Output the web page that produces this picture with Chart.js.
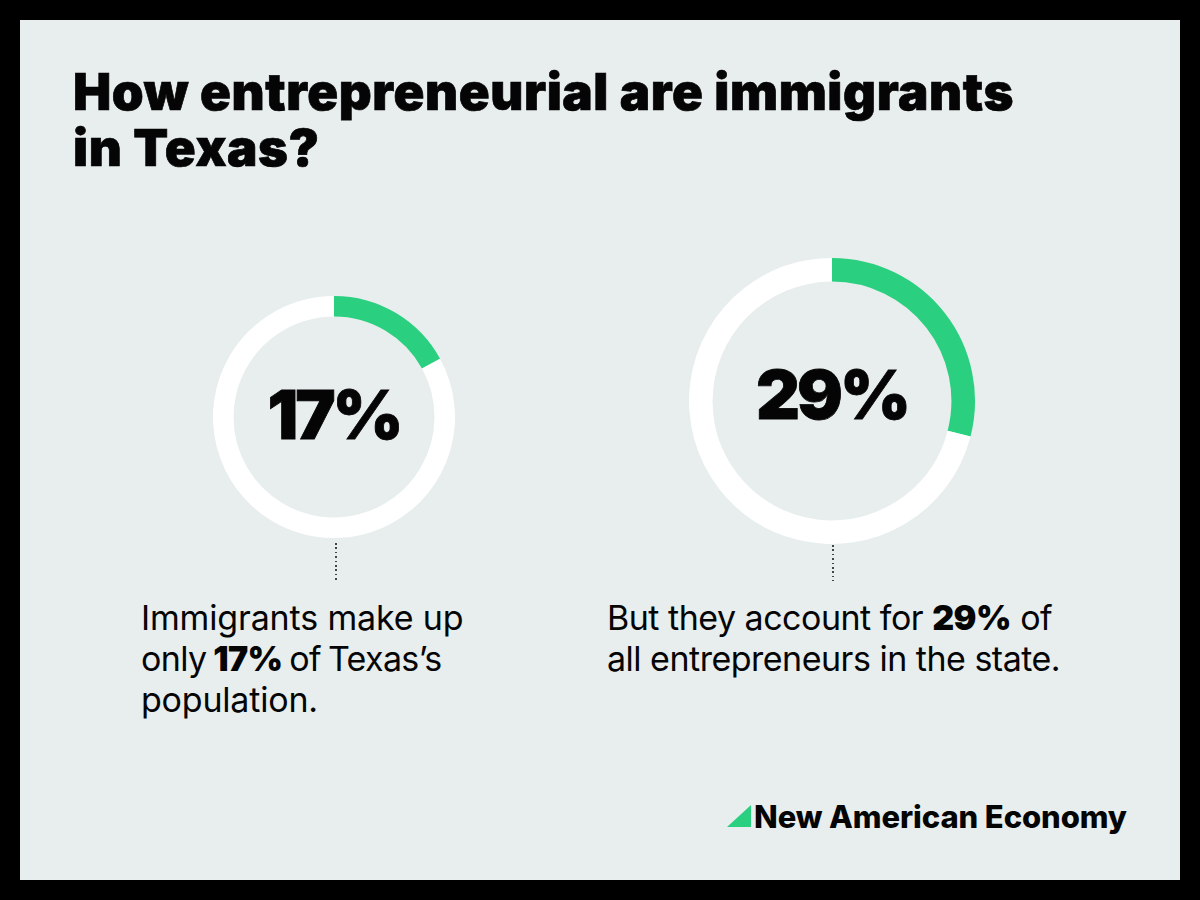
<!DOCTYPE html>
<html>
<head>
<meta charset="utf-8">
<title>How entrepreneurial are immigrants in Texas?</title>
<script src="https://cdn.jsdelivr.net/npm/chart.js@4"></script>
<style>
  html, body { margin: 0; padding: 0; }
  body { width: 1200px; height: 900px; background: #000; position: relative; overflow: hidden; font-family: Inter, "Liberation Sans", sans-serif; color: #050505; }
  #panel { position: absolute; left: 20px; top: 20px; width: 1160px; height: 860px; background: #e8eded; }
  .abs { position: absolute; white-space: nowrap; }
  canvas { position: absolute; }
  #title { left: 73px; top: 64px; font-size: 51px; line-height: 56px; font-weight: 900; letter-spacing: 0.6px; -webkit-text-stroke: 0.7px #050505; }
  .big { font-size: 68px; font-weight: 900; letter-spacing: -3px; line-height: 80px; transform: translateX(-50%); -webkit-text-stroke: 0.8px #050505; }
  .note { font-size: 34px; line-height: 41px; font-weight: 400; }
  .note span { display: block; }
  .note b { font-weight: 900; }
  .dots { width: 2px; background: repeating-linear-gradient(to bottom, #444 0, #444 1.5px, transparent 1.5px, transparent 4.4px); }
  #mark { left: 727px; top: 805px; width: 24px; height: 22px; background: #2ad07f; clip-path: polygon(0 100%, 100% 0, 100% 100%); }
  #brand { left: 754px; top: 798px; font-size: 31px; line-height: 38px; font-weight: 800; letter-spacing: -0.1px; }
</style>
</head>
<body>
<div id="panel"></div>
<canvas id="chart_population" style="left:204px;top:287px;width:260px;height:260px"></canvas>
<canvas id="chart_entrepreneurs" style="left:682px;top:251px;width:300px;height:300px"></canvas>

<div class="abs" id="title">How entrepreneurial are immigrants<br>in Texas?</div>
<div class="abs big" id="label_population" style="left:334px;top:374px"></div>
<div class="abs big" id="label_entrepreneurs" style="left:832px;top:354px"></div>
<div class="abs dots" style="left:335px;top:543px;height:38px"></div>
<div class="abs dots" style="left:832px;top:545px;height:36px"></div>
<div class="abs note" style="left:141px;top:597px">
  <span style="letter-spacing:-0.15px">Immigrants make up</span>
  <span style="letter-spacing:-0.65px;word-spacing:-2px">only <b>17%</b> of Texas’s</span>
  <span style="letter-spacing:-0.2px">population.</span>
</div>
<div class="abs note" style="left:607px;top:597px">
  <span style="letter-spacing:-0.5px">But they account for <b>29%</b> of</span>
  <span style="letter-spacing:-0.5px">all entrepreneurs in the state.</span>
</div>
<div class="abs" id="mark"></div>
<div class="abs" id="brand">New American Economy</div>

<script>
const categories = ["Immigrants", "Everyone else"];
const population_share = [17, 83];
const entrepreneur_share = [29, 71];
const green = "#2ad07f";
const white = "#ffffff";

function make_ring(id, values, outer, cutout) {
  return new Chart(document.getElementById(id), {
    type: "doughnut",
    data: {
      labels: categories,
      datasets: [
        {
          data: values,
          backgroundColor: [green, white],
          borderWidth: 0,
        },
      ],
    },
    options: {
      responsive: false,
      animation: false,
      radius: outer,
      cutout: cutout,
      layout: { padding: 0 },
      plugins: {
        legend: { display: false },
        tooltip: { enabled: false },
      },
    },
  });
}

make_ring("chart_population", population_share, 121, "83%");
make_ring("chart_entrepreneurs", entrepreneur_share, 143, "83.5%");

document.getElementById("label_population").textContent = population_share[0] + "%";
document.getElementById("label_entrepreneurs").textContent = entrepreneur_share[0] + "%";
</script>
</body>
</html>
